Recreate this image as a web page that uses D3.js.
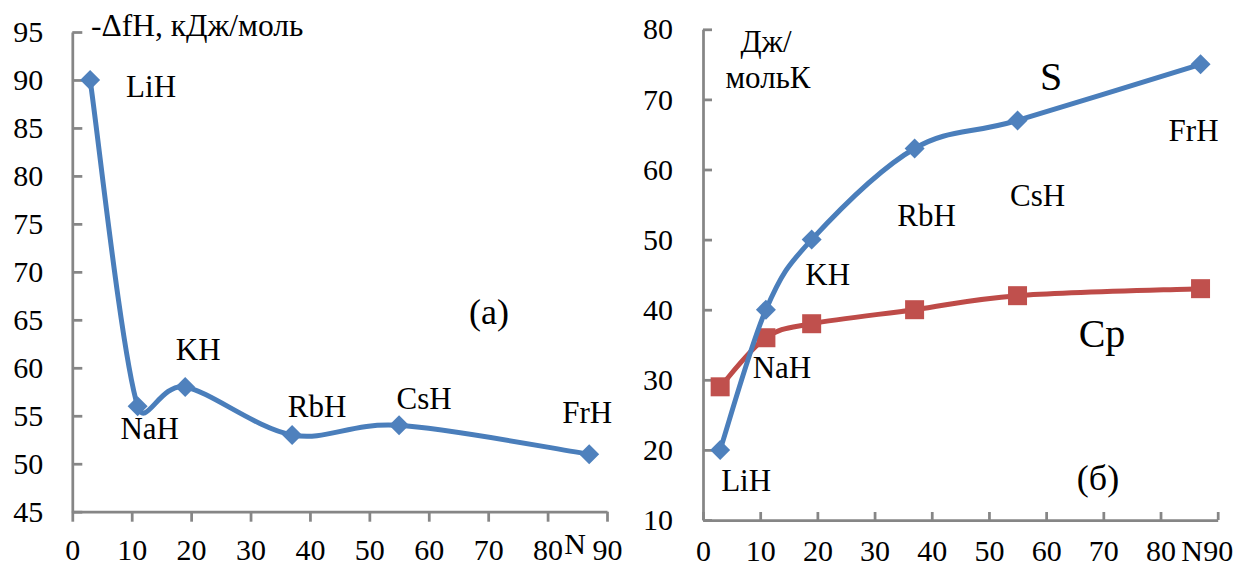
<!DOCTYPE html>
<html>
<head>
<meta charset="utf-8">
<style>
  body { margin: 0; background: #fff; }
</style>
</head>
<body>
<script src="https://cdn.jsdelivr.net/npm/d3@7"></script>
<script>

// *** DATA ***

var compounds = ['LiH', 'NaH', 'KH', 'RbH', 'CsH', 'FrH'];
var atomicN = [3, 11, 19, 37, 55, 87];          // N (atomic number of the metal)
var enthalpy = [90, 56, 58, 53, 54, 51];        // -ΔfH, кДж/моль
var entropy = [20, 40, 50, 63, 67, 75];         // S, Дж/мольК
var heatCap = [29, 36, 38, 40, 42, 43];         // Cp, Дж/мольК

var xTicks = [0, 10, 20, 30, 40, 50, 60, 70, 80, 90];
var yTicksL = [45, 50, 55, 60, 65, 70, 75, 80, 85, 90, 95];
var yTicksR = [10, 20, 30, 40, 50, 60, 70, 80];

// *** LAYOUT ***

var W = 1237, H = 567;
var serif = 'Liberation Serif';
var blue = '#4A7EBB', blueFill = '#4F81BD';
var red = '#BE4B48', redFill = '#C0504D';
var axisColor = '#868686';

// label offsets from their point (px): [dx, dy]
var offL = [[36, 17, 'start'], [12, 33], [13, -27], [25, -18], [25, -16], [-2, -31]];
var offR = [[26, 41], [16, 68], [16, 45], [12, 78], [20, 86], [-7, 77]];

// Excel-like smoothed line: Catmull-Rom handles, each clipped to half its segment
function excelSmooth(context) {
  var pts;
  function limit(v, L) {
    var len = Math.sqrt(v[0] * v[0] + v[1] * v[1]);
    return len > L ? [v[0] * L / len, v[1] * L / len] : v;
  }
  return {
    areaStart: function(){}, areaEnd: function(){},
    lineStart: function(){ pts = []; },
    point: function(x, y){ pts.push([+x, +y]); },
    lineEnd: function(){
      var n = pts.length;
      if (!n) return;
      context.moveTo(pts[0][0], pts[0][1]);
      var tan = pts.map(function(p, i){
        var a = pts[Math.max(i - 1, 0)], b = pts[Math.min(i + 1, n - 1)];
        return [(b[0] - a[0]) / 6, (b[1] - a[1]) / 6];
      });
      for (var i = 0; i < n - 1; i++) {
        var p = pts[i], q = pts[i + 1];
        var d = Math.sqrt((q[0] - p[0]) * (q[0] - p[0]) + (q[1] - p[1]) * (q[1] - p[1]));
        var t1 = limit(tan[i], d / 2), t2 = limit(tan[i + 1], d / 2);
        context.bezierCurveTo(p[0] + t1[0], p[1] + t1[1], q[0] - t2[0], q[1] - t2[1], q[0], q[1]);
      }
    }
  };
}

var svg = d3.select('body').append('svg')
  .attr('width', W)
  .attr('height', H);

svg.append('rect').attr('width', W).attr('height', H).attr('fill', '#fff');

// scales
var xL = d3.scaleLinear().domain([0, 90]).range([72.3, 607]);
var yL = d3.scaleLinear().domain([45, 95]).range([511.7, 32]);
var xR = d3.scaleLinear().domain([0, 90]).range([703, 1217.7]);
var yR = d3.scaleLinear().domain([10, 80]).range([520, 29.3]);

function styleAxis(g) {
  g.selectAll('path, line')
    .attr('stroke', axisColor)
    .attr('stroke-width', 2.75);
  g.selectAll('text')
    .attr('fill', '#000')
    .style('font-family', serif)
    .style('font-size', '30px');
}

function label(x, y, txt, size, anchor) {
  return svg.append('text')
    .attr('x', x).attr('y', y)
    .attr('text-anchor', anchor || 'middle')
    .attr('fill', '#000')
    .style('font-family', serif)
    .style('font-size', size + 'px')
    .text(txt);
}

// *** LEFT PANEL (a) ***

svg.append('g')
  .attr('transform', 'translate(0,' + yL(45) + ')')
  .call(d3.axisBottom(xL).tickValues(xTicks).tickSizeInner(10).tickSizeOuter(0).tickPadding(17)
    .tickFormat(function(d){ return d; }))
  .call(styleAxis);

svg.append('g')
  .attr('transform', 'translate(' + xL(0) + ',0)')
  .call(d3.axisLeft(yL).tickValues(yTicksL).tickSizeInner(-10).tickSizeOuter(0).tickPadding(29))
  .call(styleAxis);

var lineL = d3.line()
  .x(function(d, i){ return xL(atomicN[i]); })
  .y(function(d){ return yL(d); })
  .curve(excelSmooth);

svg.append('path')
  .attr('d', lineL(enthalpy))
  .attr('fill', 'none')
  .attr('stroke', blue)
  .attr('stroke-width', 5)
  .attr('stroke-linejoin', 'round');

var diamond = d3.symbol().type(d3.symbolSquare).size(200);
var square = d3.symbol().type(d3.symbolSquare).size(361);

svg.append('g').selectAll('path').data(enthalpy).enter().append('path')
  .attr('d', diamond)
  .attr('transform', function(d, i){ return 'translate(' + xL(atomicN[i]) + ',' + yL(d) + ') rotate(45)'; })
  .attr('fill', blueFill);

enthalpy.forEach(function(d, i){
  label(xL(atomicN[i]) + offL[i][0], yL(d) + offL[i][1], compounds[i], 31, offL[i][2]);
});

label(91, 36, '-ΔfH, кДж/моль', 31.5, 'start');
label(489, 324, '(а)', 36);
label(575, 554, 'N', 30);

// *** RIGHT PANEL (б) ***

svg.append('g')
  .attr('transform', 'translate(0,' + yR(10) + ')')
  .call(d3.axisBottom(xR).tickValues(xTicks).tickSizeInner(-8).tickSizeOuter(0).tickPadding(20)
    .tickFormat(function(d){ return d; }))
  .call(styleAxis);

svg.append('g')
  .attr('transform', 'translate(' + xR(0) + ',0)')
  .call(d3.axisLeft(yR).tickValues(yTicksR).tickSizeInner(-9).tickSizeOuter(0).tickPadding(30))
  .call(styleAxis);

var lineR = d3.line()
  .x(function(d, i){ return xR(atomicN[i]); })
  .y(function(d){ return yR(d); })
  .curve(excelSmooth);

svg.append('path')
  .attr('d', lineR(heatCap))
  .attr('fill', 'none')
  .attr('stroke', red)
  .attr('stroke-width', 5)
  .attr('stroke-linejoin', 'round');

svg.append('g').selectAll('path').data(heatCap).enter().append('path')
  .attr('d', square)
  .attr('transform', function(d, i){ return 'translate(' + xR(atomicN[i]) + ',' + yR(d) + ')'; })
  .attr('fill', redFill);

svg.append('path')
  .attr('d', lineR(entropy))
  .attr('fill', 'none')
  .attr('stroke', blue)
  .attr('stroke-width', 5)
  .attr('stroke-linejoin', 'round');

svg.append('g').selectAll('path').data(entropy).enter().append('path')
  .attr('d', diamond)
  .attr('transform', function(d, i){ return 'translate(' + xR(atomicN[i]) + ',' + yR(d) + ') rotate(45)'; })
  .attr('fill', blueFill);

entropy.forEach(function(d, i){
  label(xR(atomicN[i]) + offR[i][0], yR(d) + offR[i][1], compounds[i], 31);
});

label(766, 52, 'Дж/', 31);
label(768, 88, 'мольК', 31);
label(1051, 90, 'S', 40);
label(1102, 347, 'Cp', 40);
label(1098, 490, '(б)', 36);
label(1192, 561, 'N', 30);

</script>
</body>
</html>
